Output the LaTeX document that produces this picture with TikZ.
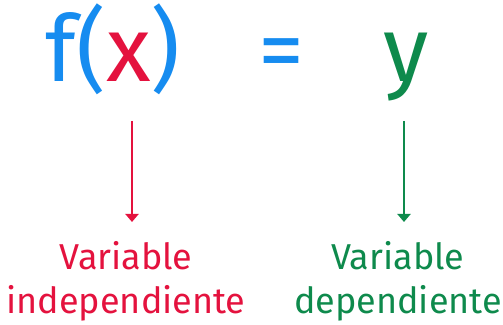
\documentclass[tikz,border=0pt]{standalone}
\usepackage{fontspec}
\setmainfont{Fira Sans}
\usetikzlibrary{arrows.meta}
\definecolor{funcblue}{RGB}{22,140,240}
\definecolor{indepred}{RGB}{228,18,62}
\definecolor{depgreen}{RGB}{14,138,76}

\begin{document}
\begin{tikzpicture}[x=1pt,y=1pt,>={Triangle[width=13pt,length=8pt]},
  formula/.style={font=\fontsize{92}{92}\selectfont,inner sep=0pt,anchor=base},
  caption/.style={font=\fontsize{36}{44}\selectfont,align=center,inner sep=0pt,anchor=north},
  pointer/.style={->,line width=2.5pt,shorten >=19pt}]
  \useasboundingbox (0,0) rectangle (503,324);
  % the formula
  \node[formula,text=funcblue] (fx) at (113,242) {f(\textcolor{indepred}{x})};
  \node[formula,text=funcblue] (eq) at (281,242) {=};
  \node[formula,text=depgreen] (yv) at (406,242) {y};
  % the two captions
  \node[caption,text=indepred] (indep) at (126,83) {Variable\\independiente};
  \node[caption,text=depgreen] (dep) at (398,83) {Variable\\dependiente};
  \coordinate (xfoot) at (132,203);
  \coordinate (yfoot) at (404,203);
  \draw[pointer,indepred] (xfoot) -- (xfoot |- indep.north);
  \draw[pointer,depgreen] (yfoot) -- (yfoot |- dep.north);
\end{tikzpicture}
\end{document}
